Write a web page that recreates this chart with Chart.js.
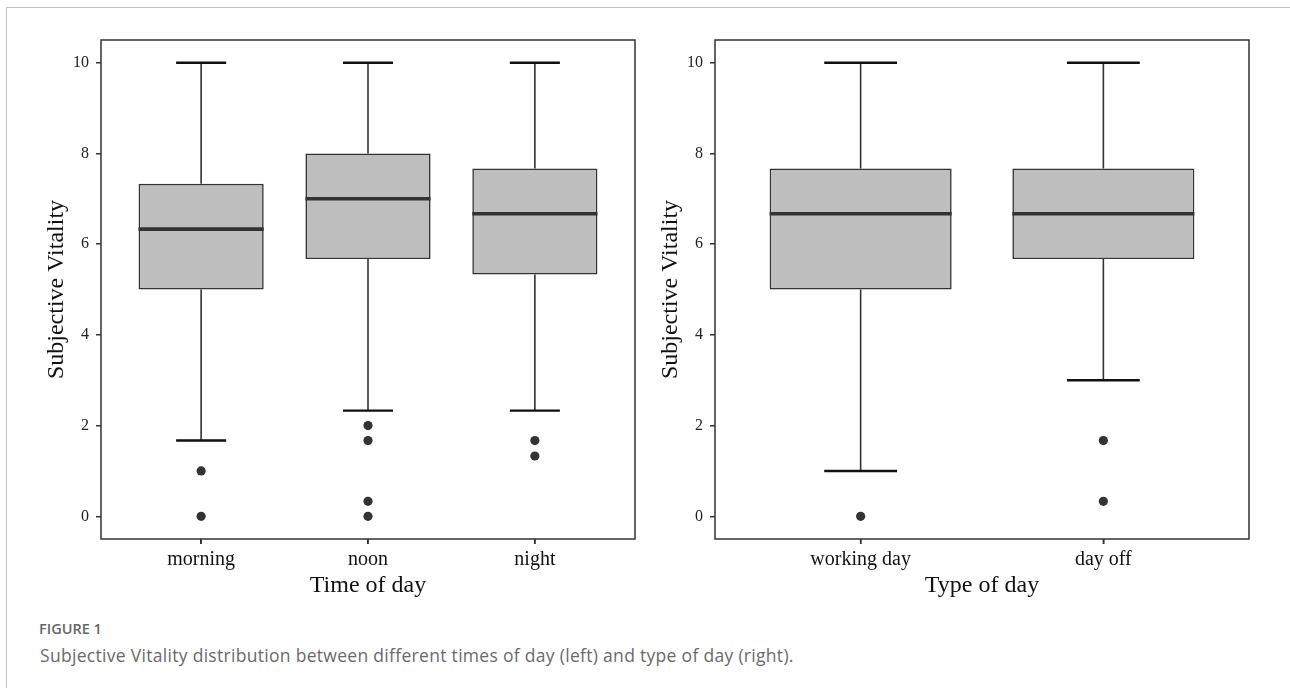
<!DOCTYPE html>
<html>
<head>
<meta charset="utf-8">
<script src="https://cdn.jsdelivr.net/npm/chart.js@4.4.1/dist/chart.umd.min.js"></script>
<style>
  html, body { margin: 0; padding: 0; background: #fff; }
  body { width: 1290px; height: 688px; position: relative; overflow: hidden; }
  #card { position: absolute; left: 6px; top: 7px; width: 1290px; height: 700px;
          border-top: 1.5px solid #c4c4c4; border-left: 1.5px solid #c4c4c4; }
  #c1 { position: absolute; left: 0; top: 0; }
  #c2 { position: absolute; left: 650px; top: 0; }
  #figlabel { position: absolute; left: 39px; top: 619px; font-family: "Open Sans", sans-serif;
              font-size: 14.5px; font-weight: 600; color: #666; white-space: nowrap; }
  #caption { position: absolute; left: 40px; top: 643px; font-family: "Open Sans", sans-serif;
             font-size: 17.5px; color: #6a6a6a; letter-spacing: 0.3px; white-space: nowrap; }
</style>
</head>
<body>
<div id="card"></div>
<canvas id="c1" width="650" height="610"></canvas>
<canvas id="c2" width="640" height="610"></canvas>
<div id="figlabel">FIGURE 1</div>
<div id="caption">Subjective Vitality distribution between different times of day (left) and type of day (right).</div>
<script>
// ---- Data ----
const timeCategories = ["morning", "noon", "night"];
const timeLowWhisker = [1.67, 2.33, 2.33];
const timeQ1 = [5, 5.67, 5.33];
const timeMedian = [6.33, 7, 6.67];
const timeQ3 = [7.33, 8, 7.67];
const timeHighWhisker = [10, 10, 10];
const timeOutliers = [[1, 0], [2, 1.67, 0.33, 0], [1.67, 1.33]];

const dayCategories = ["working day", "day off"];
const dayLowWhisker = [1, 3];
const dayQ1 = [5, 5.67];
const dayMedian = [6.67, 6.67];
const dayQ3 = [7.67, 7.67];
const dayHighWhisker = [10, 10];
const dayOutliers = [[0], [1.67, 0.33]];

const yTicks = [0, 2, 4, 6, 8, 10];

const INK = "#333333";
const BOX_FILL = "#bebebe";
const SERIF = "'Liberation Serif', 'Times New Roman', serif";

const boxPlugin = {
  id: "boxExtras",
  afterDatasetsDraw(chart, args, opts) {
    const { ctx, chartArea } = chart;
    const xs = chart.scales.x, ys = chart.scales.y;
    const b = opts.box;
    const unit = xs.getPixelForValue(2) - xs.getPixelForValue(1);
    const capHalf = unit * 0.15;
    const boxHalf = unit * 0.375;
    ctx.save();
    for (let i = 0; i < b.median.length; i++) {
      const x = xs.getPixelForValue(i + 1);
      // whiskers
      ctx.strokeStyle = INK;
      ctx.lineWidth = 1.6;
      ctx.beginPath();
      ctx.moveTo(x, ys.getPixelForValue(b.q3[i]));
      ctx.lineTo(x, ys.getPixelForValue(b.high[i]));
      ctx.moveTo(x, ys.getPixelForValue(b.q1[i]));
      ctx.lineTo(x, ys.getPixelForValue(b.low[i]));
      ctx.stroke();
      // caps
      ctx.strokeStyle = "#111";
      ctx.lineWidth = 2.4;
      ctx.beginPath();
      [b.high[i], b.low[i]].forEach(v => {
        const y = ys.getPixelForValue(v);
        ctx.moveTo(x - capHalf, y);
        ctx.lineTo(x + capHalf, y);
      });
      ctx.stroke();
      // median
      ctx.strokeStyle = INK;
      ctx.lineWidth = 3.6;
      ctx.beginPath();
      const ym = ys.getPixelForValue(b.median[i]);
      ctx.moveTo(x - boxHalf, ym);
      ctx.lineTo(x + boxHalf, ym);
      ctx.stroke();
    }
    // x-axis tick marks at category positions
    ctx.strokeStyle = INK;
    ctx.lineWidth = 1.5;
    ctx.beginPath();
    xs.ticks.forEach(t => {
      const x = xs.getPixelForValue(t.value);
      ctx.moveTo(x, chartArea.bottom);
      ctx.lineTo(x, chartArea.bottom + 5);
    });
    ctx.stroke();
    // panel border
    ctx.strokeRect(chartArea.left, chartArea.top, chartArea.right - chartArea.left, chartArea.bottom - chartArea.top);
    ctx.restore();
  }
};

function makeChart(id, cats, low, q1, med, q3, high, outl, xTitle, yAxisWidth, rightPad, yTitlePad) {
  const boxes = cats.map((c, i) => ({ x: i + 1, y: [q1[i], q3[i]] }));
  const pts = [];
  outl.forEach((arr, i) => arr.forEach(v => pts.push({ x: i + 1, y: v })));
  return new Chart(document.getElementById(id), {
    type: "bar",
    data: {
      datasets: [
        {
          type: "bar",
          data: boxes,
          backgroundColor: BOX_FILL,
          borderColor: INK,
          borderWidth: 1.6,
          borderSkipped: false,
          categoryPercentage: 1,
          barPercentage: 0.75,
          order: 2
        },
        {
          type: "scatter",
          data: pts,
          pointRadius: 4.6,
          pointBackgroundColor: INK,
          pointBorderWidth: 0,
          order: 1
        }
      ]
    },
    options: {
      responsive: false,
      animation: false,
      events: [],
      layout: { padding: { top: 40, right: rightPad, bottom: 0, left: 0 } },
      plugins: {
        legend: { display: false },
        tooltip: { enabled: false },
        boxExtras: { box: { low, q1, median: med, q3, high } }
      },
      scales: {
        x: {
          type: "linear",
          min: 0.4,
          max: cats.length + 0.6,
          offset: false,
          afterFit(s) { s.height = 71; },
          afterBuildTicks(s) { s.ticks = cats.map((c, i) => ({ value: i + 1 })); },
          ticks: {
            callback: (v) => cats[Math.round(v) - 1],
            font: { family: SERIF, size: 20 },
            color: "#111",
            padding: 4,
            maxRotation: 0,
            autoSkip: false
          },
          grid: { display: true, offset: false, drawOnChartArea: false, drawTicks: true, tickLength: 5, color: INK, lineWidth: 1.5 },
          border: { display: false },
          title: { display: true, text: xTitle, font: { family: SERIF, size: 24 }, color: "#111", padding: { top: 0, bottom: 10 } }
        },
        y: {
          type: "linear",
          min: -0.5,
          max: 10.5,
          afterFit(s) { s.width = yAxisWidth; },
          afterBuildTicks(s) { s.ticks = yTicks.map(v => ({ value: v })); },
          ticks: {
            font: { family: SERIF, size: 16 },
            color: "#222",
            padding: 7
          },
          grid: { display: true, offset: false, drawOnChartArea: false, drawTicks: true, tickLength: 5, color: INK, lineWidth: 1.5 },
          border: { display: false },
          title: { display: true, text: "Subjective Vitality", font: { family: SERIF, size: 24 }, color: "#111", padding: { top: yTitlePad, bottom: 0 } }
        }
      }
    },
    plugins: [boxPlugin]
  });
}

makeChart("c1", timeCategories, timeLowWhisker, timeQ1, timeMedian, timeQ3, timeHighWhisker, timeOutliers, "Time of day", 101, 15, 42);
makeChart("c2", dayCategories, dayLowWhisker, dayQ1, dayMedian, dayQ3, dayHighWhisker, dayOutliers, "Type of day", 65, 41, 6);
</script>
</body>
</html>
